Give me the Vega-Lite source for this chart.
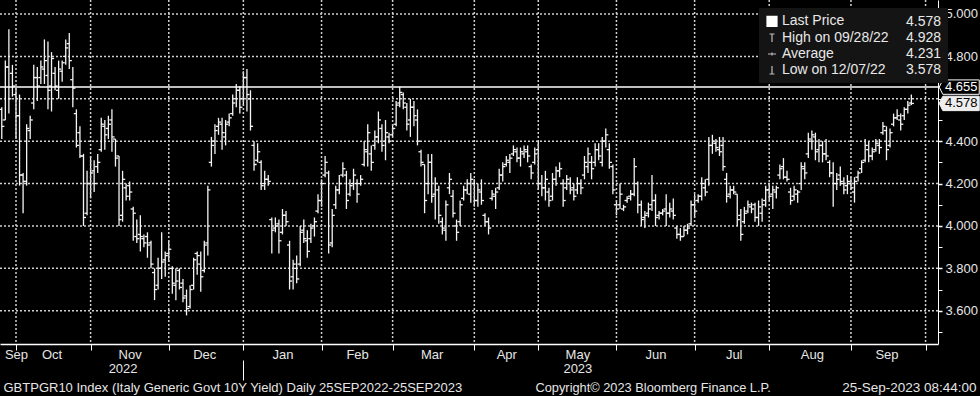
{
"$schema": "https://vega.github.io/schema/vega-lite/v6.json",
"width": 938,
"height": 344,
"autosize": {"type": "none"},
"padding": {"left": 0, "top": 0, "right": 42, "bottom": 52},
"background": "#000000",
"config": {
  "view": {"stroke": null},
  "font": "Liberation Sans",
  "axis": {"labelFont": "Liberation Sans", "titleFont": "Liberation Sans", "labelColor": "#e6e6e6", "titleColor": "#e6e6e6", "titleFontWeight": "normal", "titleFontSize": 13, "labelFontSize": 13}
},
"datasets": {
"bars": [
{"d":"2022-09-26","o":4.55,"h":4.56,"l":4.41,"c":4.47},
{"d":"2022-09-27","o":4.50,"h":4.78,"l":4.50,"c":4.75},
{"d":"2022-09-28","o":4.75,"h":4.928,"l":4.53,"c":4.60},
{"d":"2022-09-29","o":4.72,"h":4.76,"l":4.61,"c":4.66},
{"d":"2022-09-30","o":4.62,"h":4.65,"l":4.41,"c":4.52},
{"d":"2022-10-03","o":4.52,"h":4.62,"l":4.19,"c":4.24},
{"d":"2022-10-04","o":4.24,"h":4.25,"l":4.06,"c":4.21},
{"d":"2022-10-05","o":4.21,"h":4.48,"l":4.19,"c":4.46},
{"d":"2022-10-06","o":4.45,"h":4.52,"l":4.41,"c":4.50},
{"d":"2022-10-07","o":4.58,"h":4.76,"l":4.55,"c":4.70},
{"d":"2022-10-10","o":4.70,"h":4.75,"l":4.59,"c":4.66},
{"d":"2022-10-11","o":4.70,"h":4.78,"l":4.67,"c":4.75},
{"d":"2022-10-12","o":4.74,"h":4.88,"l":4.67,"c":4.78},
{"d":"2022-10-13","o":4.71,"h":4.87,"l":4.55,"c":4.64},
{"d":"2022-10-14","o":4.66,"h":4.82,"l":4.54,"c":4.79},
{"d":"2022-10-17","o":4.72,"h":4.75,"l":4.64,"c":4.66},
{"d":"2022-10-18","o":4.64,"h":4.78,"l":4.60,"c":4.74},
{"d":"2022-10-19","o":4.73,"h":4.78,"l":4.68,"c":4.77},
{"d":"2022-10-20","o":4.80,"h":4.88,"l":4.76,"c":4.84},
{"d":"2022-10-21","o":4.86,"h":4.91,"l":4.74,"c":4.78},
{"d":"2022-10-24","o":4.69,"h":4.75,"l":4.56,"c":4.65},
{"d":"2022-10-25","o":4.53,"h":4.55,"l":4.37,"c":4.38},
{"d":"2022-10-26","o":4.44,"h":4.47,"l":4.32,"c":4.33},
{"d":"2022-10-27","o":4.33,"h":4.34,"l":4.00,"c":4.04},
{"d":"2022-10-28","o":4.06,"h":4.26,"l":4.05,"c":4.20},
{"d":"2022-10-31","o":4.20,"h":4.33,"l":4.13,"c":4.25},
{"d":"2022-11-01","o":4.26,"h":4.31,"l":4.16,"c":4.20},
{"d":"2022-11-02","o":4.28,"h":4.34,"l":4.25,"c":4.30},
{"d":"2022-11-03","o":4.36,"h":4.51,"l":4.35,"c":4.48},
{"d":"2022-11-04","o":4.47,"h":4.50,"l":4.36,"c":4.43},
{"d":"2022-11-07","o":4.46,"h":4.52,"l":4.41,"c":4.48},
{"d":"2022-11-08","o":4.50,"h":4.55,"l":4.35,"c":4.42},
{"d":"2022-11-09","o":4.41,"h":4.41,"l":4.28,"c":4.32},
{"d":"2022-11-10","o":4.33,"h":4.33,"l":4.00,"c":4.03},
{"d":"2022-11-11","o":4.05,"h":4.26,"l":4.02,"c":4.22},
{"d":"2022-11-14","o":4.18,"h":4.20,"l":4.12,"c":4.14},
{"d":"2022-11-15","o":4.19,"h":4.21,"l":4.12,"c":4.16},
{"d":"2022-11-16","o":4.08,"h":4.09,"l":3.93,"c":4.06},
{"d":"2022-11-17","o":3.95,"h":4.03,"l":3.92,"c":3.94},
{"d":"2022-11-18","o":3.96,"h":4.05,"l":3.88,"c":3.95},
{"d":"2022-11-21","o":3.94,"h":3.96,"l":3.90,"c":3.92},
{"d":"2022-11-22","o":3.95,"h":3.97,"l":3.85,"c":3.91},
{"d":"2022-11-23","o":3.92,"h":3.93,"l":3.80,"c":3.82},
{"d":"2022-11-24","o":3.78,"h":3.80,"l":3.65,"c":3.70},
{"d":"2022-11-25","o":3.72,"h":3.85,"l":3.70,"c":3.80},
{"d":"2022-11-28","o":3.80,"h":3.97,"l":3.75,"c":3.83},
{"d":"2022-11-29","o":3.84,"h":3.88,"l":3.76,"c":3.86},
{"d":"2022-11-30","o":3.87,"h":3.93,"l":3.83,"c":3.89},
{"d":"2022-12-01","o":3.80,"h":3.81,"l":3.68,"c":3.73},
{"d":"2022-12-02","o":3.72,"h":3.80,"l":3.65,"c":3.74},
{"d":"2022-12-05","o":3.79,"h":3.80,"l":3.70,"c":3.71},
{"d":"2022-12-06","o":3.73,"h":3.75,"l":3.64,"c":3.66},
{"d":"2022-12-07","o":3.67,"h":3.70,"l":3.578,"c":3.61},
{"d":"2022-12-08","o":3.62,"h":3.72,"l":3.61,"c":3.70},
{"d":"2022-12-09","o":3.72,"h":3.85,"l":3.70,"c":3.84},
{"d":"2022-12-12","o":3.87,"h":3.88,"l":3.77,"c":3.86},
{"d":"2022-12-13","o":3.82,"h":3.88,"l":3.69,"c":3.76},
{"d":"2022-12-14","o":3.79,"h":3.93,"l":3.78,"c":3.91},
{"d":"2022-12-15","o":3.92,"h":4.19,"l":3.86,"c":4.17},
{"d":"2022-12-16","o":4.30,"h":4.42,"l":4.28,"c":4.38},
{"d":"2022-12-19","o":4.40,"h":4.48,"l":4.34,"c":4.45},
{"d":"2022-12-20","o":4.47,"h":4.51,"l":4.43,"c":4.49},
{"d":"2022-12-21","o":4.48,"h":4.51,"l":4.36,"c":4.44},
{"d":"2022-12-22","o":4.42,"h":4.50,"l":4.38,"c":4.48},
{"d":"2022-12-23","o":4.49,"h":4.53,"l":4.47,"c":4.51},
{"d":"2022-12-27","o":4.53,"h":4.62,"l":4.52,"c":4.58},
{"d":"2022-12-28","o":4.60,"h":4.67,"l":4.56,"c":4.64},
{"d":"2022-12-29","o":4.64,"h":4.66,"l":4.53,"c":4.56},
{"d":"2022-12-30","o":4.60,"h":4.73,"l":4.57,"c":4.70},
{"d":"2023-01-02","o":4.70,"h":4.74,"l":4.54,"c":4.62},
{"d":"2023-01-03","o":4.60,"h":4.64,"l":4.45,"c":4.47},
{"d":"2023-01-04","o":4.38,"h":4.40,"l":4.26,"c":4.29},
{"d":"2023-01-05","o":4.31,"h":4.39,"l":4.30,"c":4.35},
{"d":"2023-01-06","o":4.30,"h":4.31,"l":4.17,"c":4.19},
{"d":"2023-01-09","o":4.20,"h":4.26,"l":4.17,"c":4.22},
{"d":"2023-01-10","o":4.22,"h":4.24,"l":4.19,"c":4.21},
{"d":"2023-01-11","o":4.03,"h":4.04,"l":3.87,"c":3.98},
{"d":"2023-01-12","o":3.99,"h":4.04,"l":3.97,"c":4.00},
{"d":"2023-01-13","o":4.01,"h":4.03,"l":3.87,"c":3.93},
{"d":"2023-01-16","o":3.97,"h":4.08,"l":3.96,"c":4.05},
{"d":"2023-01-17","o":4.05,"h":4.07,"l":4.00,"c":4.02},
{"d":"2023-01-18","o":3.91,"h":3.93,"l":3.70,"c":3.74},
{"d":"2023-01-19","o":3.76,"h":3.84,"l":3.70,"c":3.82},
{"d":"2023-01-20","o":3.80,"h":3.86,"l":3.73,"c":3.75},
{"d":"2023-01-23","o":3.82,"h":4.00,"l":3.81,"c":3.97},
{"d":"2023-01-24","o":3.98,"h":4.03,"l":3.92,"c":3.94},
{"d":"2023-01-25","o":3.93,"h":3.98,"l":3.85,"c":3.88},
{"d":"2023-01-26","o":3.94,"h":4.01,"l":3.92,"c":3.99},
{"d":"2023-01-27","o":4.00,"h":4.04,"l":3.95,"c":4.02},
{"d":"2023-01-30","o":4.07,"h":4.15,"l":4.06,"c":4.12},
{"d":"2023-01-31","o":4.12,"h":4.22,"l":4.09,"c":4.20},
{"d":"2023-02-01","o":4.24,"h":4.33,"l":4.23,"c":4.30},
{"d":"2023-02-02","o":4.25,"h":4.26,"l":3.87,"c":3.91},
{"d":"2023-02-03","o":3.92,"h":4.08,"l":3.90,"c":4.05},
{"d":"2023-02-06","o":4.10,"h":4.19,"l":4.08,"c":4.17},
{"d":"2023-02-07","o":4.17,"h":4.24,"l":4.15,"c":4.20},
{"d":"2023-02-08","o":4.24,"h":4.30,"l":4.23,"c":4.27},
{"d":"2023-02-09","o":4.24,"h":4.26,"l":4.08,"c":4.12},
{"d":"2023-02-10","o":4.15,"h":4.22,"l":4.14,"c":4.19},
{"d":"2023-02-13","o":4.20,"h":4.27,"l":4.17,"c":4.24},
{"d":"2023-02-14","o":4.20,"h":4.22,"l":4.11,"c":4.15},
{"d":"2023-02-15","o":4.20,"h":4.24,"l":4.19,"c":4.22},
{"d":"2023-02-16","o":4.29,"h":4.40,"l":4.28,"c":4.36},
{"d":"2023-02-17","o":4.35,"h":4.48,"l":4.28,"c":4.44},
{"d":"2023-02-20","o":4.34,"h":4.38,"l":4.26,"c":4.30},
{"d":"2023-02-21","o":4.38,"h":4.45,"l":4.36,"c":4.42},
{"d":"2023-02-22","o":4.42,"h":4.54,"l":4.39,"c":4.50},
{"d":"2023-02-23","o":4.46,"h":4.48,"l":4.35,"c":4.38},
{"d":"2023-02-24","o":4.40,"h":4.50,"l":4.31,"c":4.44},
{"d":"2023-02-27","o":4.42,"h":4.44,"l":4.39,"c":4.40},
{"d":"2023-02-28","o":4.43,"h":4.48,"l":4.42,"c":4.46},
{"d":"2023-03-01","o":4.48,"h":4.59,"l":4.47,"c":4.57},
{"d":"2023-03-02","o":4.58,"h":4.657,"l":4.56,"c":4.63},
{"d":"2023-03-03","o":4.62,"h":4.63,"l":4.55,"c":4.58},
{"d":"2023-03-06","o":4.56,"h":4.58,"l":4.45,"c":4.48},
{"d":"2023-03-07","o":4.50,"h":4.60,"l":4.42,"c":4.56},
{"d":"2023-03-08","o":4.56,"h":4.59,"l":4.47,"c":4.52},
{"d":"2023-03-09","o":4.50,"h":4.55,"l":4.38,"c":4.40},
{"d":"2023-03-10","o":4.35,"h":4.36,"l":4.28,"c":4.30},
{"d":"2023-03-13","o":4.29,"h":4.29,"l":4.06,"c":4.12},
{"d":"2023-03-14","o":4.20,"h":4.34,"l":4.15,"c":4.30},
{"d":"2023-03-15","o":4.30,"h":4.34,"l":4.11,"c":4.14},
{"d":"2023-03-16","o":4.15,"h":4.23,"l":4.03,"c":4.20},
{"d":"2023-03-17","o":4.17,"h":4.19,"l":4.01,"c":4.05},
{"d":"2023-03-20","o":4.02,"h":4.04,"l":3.96,"c":3.99},
{"d":"2023-03-21","o":3.98,"h":4.12,"l":3.93,"c":4.10},
{"d":"2023-03-22","o":4.18,"h":4.25,"l":4.15,"c":4.22},
{"d":"2023-03-23","o":4.14,"h":4.17,"l":4.04,"c":4.06},
{"d":"2023-03-24","o":4.00,"h":4.03,"l":3.93,"c":3.97},
{"d":"2023-03-27","o":4.02,"h":4.12,"l":4.00,"c":4.10},
{"d":"2023-03-28","o":4.13,"h":4.19,"l":4.12,"c":4.17},
{"d":"2023-03-29","o":4.17,"h":4.22,"l":4.15,"c":4.20},
{"d":"2023-03-30","o":4.15,"h":4.25,"l":4.11,"c":4.22},
{"d":"2023-03-31","o":4.20,"h":4.22,"l":4.09,"c":4.12},
{"d":"2023-04-03","o":4.12,"h":4.20,"l":4.09,"c":4.17},
{"d":"2023-04-04","o":4.16,"h":4.22,"l":4.10,"c":4.12},
{"d":"2023-04-05","o":4.05,"h":4.06,"l":4.00,"c":4.02},
{"d":"2023-04-06","o":4.02,"h":4.04,"l":3.96,"c":3.99},
{"d":"2023-04-11","o":4.13,"h":4.17,"l":4.12,"c":4.15},
{"d":"2023-04-12","o":4.14,"h":4.18,"l":4.08,"c":4.16},
{"d":"2023-04-13","o":4.18,"h":4.27,"l":4.17,"c":4.24},
{"d":"2023-04-14","o":4.24,"h":4.30,"l":4.21,"c":4.28},
{"d":"2023-04-17","o":4.29,"h":4.33,"l":4.28,"c":4.31},
{"d":"2023-04-18","o":4.30,"h":4.34,"l":4.25,"c":4.32},
{"d":"2023-04-19","o":4.34,"h":4.38,"l":4.33,"c":4.36},
{"d":"2023-04-20","o":4.35,"h":4.37,"l":4.30,"c":4.32},
{"d":"2023-04-21","o":4.32,"h":4.37,"l":4.28,"c":4.35},
{"d":"2023-04-24","o":4.34,"h":4.38,"l":4.32,"c":4.36},
{"d":"2023-04-25","o":4.35,"h":4.38,"l":4.30,"c":4.33},
{"d":"2023-04-26","o":4.28,"h":4.29,"l":4.22,"c":4.25},
{"d":"2023-04-27","o":4.30,"h":4.37,"l":4.29,"c":4.34},
{"d":"2023-04-28","o":4.36,"h":4.40,"l":4.17,"c":4.20},
{"d":"2023-05-02","o":4.20,"h":4.24,"l":4.14,"c":4.18},
{"d":"2023-05-03","o":4.18,"h":4.26,"l":4.12,"c":4.22},
{"d":"2023-05-04","o":4.16,"h":4.18,"l":4.09,"c":4.12},
{"d":"2023-05-05","o":4.14,"h":4.25,"l":4.12,"c":4.22},
{"d":"2023-05-08","o":4.22,"h":4.28,"l":4.19,"c":4.26},
{"d":"2023-05-09","o":4.26,"h":4.30,"l":4.23,"c":4.27},
{"d":"2023-05-10","o":4.20,"h":4.22,"l":4.09,"c":4.12},
{"d":"2023-05-11","o":4.18,"h":4.24,"l":4.17,"c":4.22},
{"d":"2023-05-12","o":4.20,"h":4.23,"l":4.15,"c":4.17},
{"d":"2023-05-15","o":4.18,"h":4.20,"l":4.12,"c":4.14},
{"d":"2023-05-16","o":4.17,"h":4.23,"l":4.15,"c":4.20},
{"d":"2023-05-17","o":4.20,"h":4.22,"l":4.15,"c":4.18},
{"d":"2023-05-18","o":4.24,"h":4.33,"l":4.22,"c":4.30},
{"d":"2023-05-19","o":4.28,"h":4.37,"l":4.25,"c":4.34},
{"d":"2023-05-22","o":4.30,"h":4.33,"l":4.22,"c":4.27},
{"d":"2023-05-23","o":4.30,"h":4.39,"l":4.28,"c":4.36},
{"d":"2023-05-24","o":4.36,"h":4.39,"l":4.31,"c":4.33},
{"d":"2023-05-25","o":4.30,"h":4.42,"l":4.28,"c":4.40},
{"d":"2023-05-26","o":4.40,"h":4.46,"l":4.37,"c":4.43},
{"d":"2023-05-29","o":4.36,"h":4.39,"l":4.27,"c":4.30},
{"d":"2023-05-30","o":4.28,"h":4.29,"l":4.15,"c":4.17},
{"d":"2023-05-31","o":4.10,"h":4.12,"l":4.05,"c":4.08},
{"d":"2023-06-01","o":4.10,"h":4.20,"l":4.08,"c":4.15},
{"d":"2023-06-02","o":4.08,"h":4.10,"l":4.07,"c":4.09},
{"d":"2023-06-05","o":4.12,"h":4.14,"l":4.11,"c":4.13},
{"d":"2023-06-06","o":4.14,"h":4.17,"l":4.12,"c":4.15},
{"d":"2023-06-07","o":4.15,"h":4.32,"l":4.14,"c":4.28},
{"d":"2023-06-08","o":4.20,"h":4.21,"l":4.06,"c":4.10},
{"d":"2023-06-09","o":4.10,"h":4.12,"l":4.00,"c":4.03},
{"d":"2023-06-12","o":4.04,"h":4.07,"l":3.99,"c":4.05},
{"d":"2023-06-13","o":4.06,"h":4.11,"l":4.04,"c":4.08},
{"d":"2023-06-14","o":4.10,"h":4.24,"l":4.07,"c":4.12},
{"d":"2023-06-15","o":4.12,"h":4.15,"l":4.00,"c":4.04},
{"d":"2023-06-16","o":4.05,"h":4.07,"l":4.03,"c":4.06},
{"d":"2023-06-19","o":4.06,"h":4.08,"l":4.05,"c":4.07},
{"d":"2023-06-20","o":4.08,"h":4.15,"l":4.00,"c":4.06},
{"d":"2023-06-21","o":4.06,"h":4.11,"l":4.04,"c":4.08},
{"d":"2023-06-22","o":4.07,"h":4.13,"l":4.03,"c":4.05},
{"d":"2023-06-23","o":3.99,"h":4.00,"l":3.94,"c":3.96},
{"d":"2023-06-26","o":3.96,"h":3.99,"l":3.93,"c":3.95},
{"d":"2023-06-27","o":3.95,"h":4.00,"l":3.95,"c":3.98},
{"d":"2023-06-28","o":3.98,"h":4.01,"l":3.96,"c":3.99},
{"d":"2023-06-29","o":4.01,"h":4.12,"l":4.00,"c":4.10},
{"d":"2023-06-30","o":4.10,"h":4.15,"l":4.04,"c":4.07},
{"d":"2023-07-03","o":4.12,"h":4.15,"l":4.11,"c":4.14},
{"d":"2023-07-04","o":4.14,"h":4.23,"l":4.12,"c":4.20},
{"d":"2023-07-05","o":4.18,"h":4.22,"l":4.14,"c":4.16},
{"d":"2023-07-06","o":4.22,"h":4.42,"l":4.19,"c":4.38},
{"d":"2023-07-07","o":4.38,"h":4.43,"l":4.34,"c":4.40},
{"d":"2023-07-10","o":4.39,"h":4.41,"l":4.35,"c":4.37},
{"d":"2023-07-11","o":4.36,"h":4.42,"l":4.33,"c":4.35},
{"d":"2023-07-12","o":4.38,"h":4.42,"l":4.26,"c":4.28},
{"d":"2023-07-13","o":4.22,"h":4.25,"l":4.11,"c":4.14},
{"d":"2023-07-14","o":4.15,"h":4.19,"l":4.13,"c":4.17},
{"d":"2023-07-17","o":4.17,"h":4.19,"l":4.15,"c":4.16},
{"d":"2023-07-18","o":4.15,"h":4.15,"l":4.00,"c":4.03},
{"d":"2023-07-19","o":4.05,"h":4.08,"l":3.93,"c":3.96},
{"d":"2023-07-20","o":4.02,"h":4.09,"l":4.01,"c":4.06},
{"d":"2023-07-21","o":4.07,"h":4.12,"l":4.06,"c":4.10},
{"d":"2023-07-24","o":4.09,"h":4.11,"l":4.06,"c":4.08},
{"d":"2023-07-25","o":4.10,"h":4.11,"l":4.02,"c":4.04},
{"d":"2023-07-26","o":4.04,"h":4.12,"l":4.00,"c":4.09},
{"d":"2023-07-27","o":4.06,"h":4.13,"l":4.02,"c":4.10},
{"d":"2023-07-28","o":4.12,"h":4.19,"l":4.09,"c":4.17},
{"d":"2023-07-31","o":4.17,"h":4.20,"l":4.12,"c":4.14},
{"d":"2023-08-01","o":4.15,"h":4.19,"l":4.08,"c":4.17},
{"d":"2023-08-02","o":4.16,"h":4.19,"l":4.13,"c":4.18},
{"d":"2023-08-03","o":4.24,"h":4.29,"l":4.22,"c":4.27},
{"d":"2023-08-04","o":4.28,"h":4.32,"l":4.22,"c":4.23},
{"d":"2023-08-07","o":4.23,"h":4.26,"l":4.21,"c":4.22},
{"d":"2023-08-08","o":4.16,"h":4.18,"l":4.10,"c":4.12},
{"d":"2023-08-09","o":4.14,"h":4.19,"l":4.12,"c":4.17},
{"d":"2023-08-10","o":4.15,"h":4.17,"l":4.11,"c":4.16},
{"d":"2023-08-11","o":4.20,"h":4.30,"l":4.17,"c":4.28},
{"d":"2023-08-14","o":4.27,"h":4.30,"l":4.22,"c":4.25},
{"d":"2023-08-15","o":4.34,"h":4.44,"l":4.32,"c":4.41},
{"d":"2023-08-16","o":4.40,"h":4.45,"l":4.36,"c":4.43},
{"d":"2023-08-17","o":4.42,"h":4.44,"l":4.31,"c":4.35},
{"d":"2023-08-18","o":4.36,"h":4.41,"l":4.30,"c":4.38},
{"d":"2023-08-21","o":4.38,"h":4.40,"l":4.30,"c":4.34},
{"d":"2023-08-22","o":4.34,"h":4.41,"l":4.31,"c":4.33},
{"d":"2023-08-23","o":4.30,"h":4.31,"l":4.23,"c":4.25},
{"d":"2023-08-24","o":4.25,"h":4.30,"l":4.09,"c":4.20},
{"d":"2023-08-25","o":4.20,"h":4.25,"l":4.17,"c":4.22},
{"d":"2023-08-28","o":4.24,"h":4.28,"l":4.19,"c":4.21},
{"d":"2023-08-29","o":4.20,"h":4.23,"l":4.15,"c":4.17},
{"d":"2023-08-30","o":4.19,"h":4.24,"l":4.15,"c":4.21},
{"d":"2023-08-31","o":4.20,"h":4.23,"l":4.17,"c":4.18},
{"d":"2023-09-01","o":4.16,"h":4.23,"l":4.11,"c":4.21},
{"d":"2023-09-04","o":4.23,"h":4.26,"l":4.21,"c":4.25},
{"d":"2023-09-05","o":4.27,"h":4.31,"l":4.25,"c":4.30},
{"d":"2023-09-06","o":4.31,"h":4.41,"l":4.30,"c":4.38},
{"d":"2023-09-07","o":4.36,"h":4.40,"l":4.30,"c":4.33},
{"d":"2023-09-08","o":4.33,"h":4.37,"l":4.31,"c":4.35},
{"d":"2023-09-11","o":4.36,"h":4.41,"l":4.35,"c":4.39},
{"d":"2023-09-12","o":4.38,"h":4.41,"l":4.34,"c":4.37},
{"d":"2023-09-13","o":4.44,"h":4.49,"l":4.43,"c":4.47},
{"d":"2023-09-14","o":4.45,"h":4.47,"l":4.31,"c":4.36},
{"d":"2023-09-15","o":4.38,"h":4.46,"l":4.37,"c":4.44},
{"d":"2023-09-18","o":4.48,"h":4.53,"l":4.47,"c":4.51},
{"d":"2023-09-19","o":4.51,"h":4.55,"l":4.50,"c":4.52},
{"d":"2023-09-20","o":4.50,"h":4.53,"l":4.45,"c":4.48},
{"d":"2023-09-21","o":4.52,"h":4.56,"l":4.50,"c":4.55},
{"d":"2023-09-22","o":4.55,"h":4.59,"l":4.53,"c":4.57},
{"d":"2023-09-25","o":4.58,"h":4.62,"l":4.57,"c":4.578}
],
"leg": [
{"item":"Last Price"},{"item":"4.578"},
{"item":"High on 09/28/22"},{"item":"4.928"},
{"item":"Average"},{"item":"4.231"},
{"item":"Low on 12/07/22"},{"item":"3.578"}
],
"hgrid": [{"g":3.6},{"g":3.8},{"g":4.0},{"g":4.2},{"g":4.4},{"g":4.6},{"g":4.8},{"g":5.0}],
"vgrid": [{"m":"2022-09-30"},{"m":"2022-10-31"},{"m":"2022-11-30"},{"m":"2022-12-30"},{"m":"2023-01-31"},{"m":"2023-02-28"},{"m":"2023-03-31"},{"m":"2023-04-28"},{"m":"2023-05-31"},{"m":"2023-06-30"},{"m":"2023-07-31"},{"m":"2023-08-31"},{"m":"2023-09-29"}]
},
"resolve": {"axis": {"x": "independent", "y": "independent"}},
"layer": [
{
  "data": {"name": "hgrid"},
  "mark": {"type": "rule", "color": "#cfcfcf", "strokeWidth": 1.5, "strokeDash": [2, 2]},
  "encoding": {"y": {"field": "g", "type": "quantitative", "scale": {"domain": [3.443, 5.066], "nice": false, "zero": false}, "axis": null}}
},
{
  "data": {"name": "bars"},
  "mark": {"type": "rule", "color": "#f4f4f4", "strokeWidth": 1.3},
  "encoding": {
    "x": {"field": "d", "type": "ordinal",
      "scale": {"type": "point", "padding": 0.5, "domain": [
"2022-09-26","2022-09-27","2022-09-28","2022-09-29","2022-09-30",
"2022-10-03","2022-10-04","2022-10-05","2022-10-06","2022-10-07",
"2022-10-10","2022-10-11","2022-10-12","2022-10-13","2022-10-14",
"2022-10-17","2022-10-18","2022-10-19","2022-10-20","2022-10-21",
"2022-10-24","2022-10-25","2022-10-26","2022-10-27","2022-10-28",
"2022-10-31",
"2022-11-01","2022-11-02","2022-11-03","2022-11-04",
"2022-11-07","2022-11-08","2022-11-09","2022-11-10","2022-11-11",
"2022-11-14","2022-11-15","2022-11-16","2022-11-17","2022-11-18",
"2022-11-21","2022-11-22","2022-11-23","2022-11-24","2022-11-25",
"2022-11-28","2022-11-29","2022-11-30",
"2022-12-01","2022-12-02",
"2022-12-05","2022-12-06","2022-12-07","2022-12-08","2022-12-09",
"2022-12-12","2022-12-13","2022-12-14","2022-12-15","2022-12-16",
"2022-12-19","2022-12-20","2022-12-21","2022-12-22","2022-12-23",
"2022-12-27","2022-12-28","2022-12-29","2022-12-30",
"2023-01-02","2023-01-03","2023-01-04","2023-01-05","2023-01-06",
"2023-01-09","2023-01-10","2023-01-11","2023-01-12","2023-01-13",
"2023-01-16","2023-01-17","2023-01-18","2023-01-19","2023-01-20",
"2023-01-23","2023-01-24","2023-01-25","2023-01-26","2023-01-27",
"2023-01-30","2023-01-31",
"2023-02-01","2023-02-02","2023-02-03",
"2023-02-06","2023-02-07","2023-02-08","2023-02-09","2023-02-10",
"2023-02-13","2023-02-14","2023-02-15","2023-02-16","2023-02-17",
"2023-02-20","2023-02-21","2023-02-22","2023-02-23","2023-02-24",
"2023-02-27","2023-02-28",
"2023-03-01","2023-03-02","2023-03-03",
"2023-03-06","2023-03-07","2023-03-08","2023-03-09","2023-03-10",
"2023-03-13","2023-03-14","2023-03-15","2023-03-16","2023-03-17",
"2023-03-20","2023-03-21","2023-03-22","2023-03-23","2023-03-24",
"2023-03-27","2023-03-28","2023-03-29","2023-03-30","2023-03-31",
"2023-04-03","2023-04-04","2023-04-05","2023-04-06",
"2023-04-11","2023-04-12","2023-04-13","2023-04-14",
"2023-04-17","2023-04-18","2023-04-19","2023-04-20","2023-04-21",
"2023-04-24","2023-04-25","2023-04-26","2023-04-27","2023-04-28",
"2023-05-02","2023-05-03","2023-05-04","2023-05-05",
"2023-05-08","2023-05-09","2023-05-10","2023-05-11","2023-05-12",
"2023-05-15","2023-05-16","2023-05-17","2023-05-18","2023-05-19",
"2023-05-22","2023-05-23","2023-05-24","2023-05-25","2023-05-26",
"2023-05-29","2023-05-30","2023-05-31",
"2023-06-01","2023-06-02",
"2023-06-05","2023-06-06","2023-06-07","2023-06-08","2023-06-09",
"2023-06-12","2023-06-13","2023-06-14","2023-06-15","2023-06-16",
"2023-06-19","2023-06-20","2023-06-21","2023-06-22","2023-06-23",
"2023-06-26","2023-06-27","2023-06-28","2023-06-29","2023-06-30",
"2023-07-03","2023-07-04","2023-07-05","2023-07-06","2023-07-07",
"2023-07-10","2023-07-11","2023-07-12","2023-07-13","2023-07-14",
"2023-07-17","2023-07-18","2023-07-19","2023-07-20","2023-07-21",
"2023-07-24","2023-07-25","2023-07-26","2023-07-27","2023-07-28",
"2023-07-31",
"2023-08-01","2023-08-02","2023-08-03","2023-08-04",
"2023-08-07","2023-08-08","2023-08-09","2023-08-10","2023-08-11",
"2023-08-14","2023-08-15","2023-08-16","2023-08-17","2023-08-18",
"2023-08-21","2023-08-22","2023-08-23","2023-08-24","2023-08-25",
"2023-08-28","2023-08-29","2023-08-30","2023-08-31",
"2023-09-01",
"2023-09-04","2023-09-05","2023-09-06","2023-09-07","2023-09-08",
"2023-09-11","2023-09-12","2023-09-13","2023-09-14","2023-09-15",
"2023-09-18","2023-09-19","2023-09-20","2023-09-21","2023-09-22",
"2023-09-25","2023-09-26","2023-09-27","2023-09-28","2023-09-29",
"2023-10-02","2023-10-03","2023-10-04"
      ]},
      "axis": {
        "orient": "bottom",
        "values": ["2022-09-30","2022-10-14","2022-11-15","2022-12-14","2023-01-16","2023-02-14","2023-03-15","2023-04-17","2023-05-16","2023-06-15","2023-07-17","2023-08-16","2023-09-14"],
        "labelExpr": "utcFormat(toDate(datum.value), '%b')",
        "labelAngle": 0, "labelOverlap": false, "labelPadding": 4, "labelFontSize": 13,
        "ticks": false, "grid": false,
        "domain": true, "domainColor": "#ffffff", "domainWidth": 1.5,
        "title": "GBTPGR10 Index (Italy Generic Govt 10Y Yield)  Daily 25SEP2022-25SEP2023",
        "titleFontSize": 13,
        "titleX": 3, "titleY": 43, "titleAlign": "left", "titleBaseline": "middle"
      }
    },
    "y": {"field": "l", "type": "quantitative",
      "axis": {
        "orient": "right",
        "values": [3.6, 3.8, 4.0, 4.2, 4.4, 4.8, 5.0],
        "format": ".3f",
        "labelOverlap": false, "labelPadding": 3, "labelFontSize": 13,
        "grid": false,
        "tickSize": 4, "tickColor": "#ffffff", "tickWidth": 1.5,
        "domain": true, "domainColor": "#ffffff",
        "title": null
      }
    },
    "y2": {"field": "h"}
  }
},
{
  "data": {"name": "vgrid"},
  "mark": {"type": "rule", "color": "#cfcfcf", "strokeWidth": 1.5, "strokeDash": [2, 2]},
  "encoding": {"x": {"field": "m", "type": "ordinal", "axis": null}}
},
{
  "data": {"name": "bars"},
  "mark": {"type": "tick", "orient": "horizontal", "color": "#f4f4f4", "opacity": 1, "size": 2.6, "thickness": 1.3, "xOffset": -1.3},
  "encoding": {
    "x": {"field": "d", "type": "ordinal",
      "axis": {
        "orient": "bottom",
        "values": ["2022-09-30","2022-10-31","2022-11-30","2022-12-30","2023-01-31","2023-02-28","2023-03-31","2023-04-28","2023-05-31","2023-06-30","2023-07-31","2023-08-31","2023-09-29"],
        "labels": false, "ticks": true, "tickSize": 6, "tickColor": "#ffffff",
        "grid": false,
        "domain": false,
        "title": "Copyright\u00a9 2023 Bloomberg Finance L.P.",
        "titleFontSize": 12.8,
        "titleX": 535, "titleY": 43, "titleAlign": "left", "titleBaseline": "middle"
      }
    },
    "y": {"field": "o", "type": "quantitative", "axis": null}
  }
},
{
  "data": {"name": "bars"},
  "mark": {"type": "tick", "orient": "horizontal", "color": "#f4f4f4", "opacity": 1, "size": 2.6, "thickness": 1.3, "xOffset": 1.3},
  "encoding": {
    "x": {"field": "d", "type": "ordinal",
      "axis": {
        "orient": "bottom",
        "values": ["2022-11-11","2023-05-16"],
        "labelExpr": "utcFormat(toDate(datum.value), '%Y')",
        "labelAngle": 0, "labelOverlap": false, "labelFontSize": 13,
        "offset": 16, "ticks": false, "tickSize": 0,
        "labelPadding": 2,
        "domain": false, "grid": false,
        "title": "25-Sep-2023 08:44:00",
        "titleFontSize": 13.5,
        "titleX": 976, "titleY": 27, "titleAlign": "right", "titleBaseline": "middle"
      }
    },
    "y": {"field": "c", "type": "quantitative",
      "axis": {
        "orient": "right",
        "values": [3.5, 3.7, 3.9, 4.1, 4.3, 4.5, 4.6, 4.7, 4.9],
        "labels": false, "grid": false, "domain": false,
        "ticks": true, "tickSize": 4, "tickColor": "#ffffff",
        "title": null
      }
    }
  }
},
{
  "data": {"values": [{}]},
  "mark": {"type": "rule", "color": "#ffffff", "strokeWidth": 1.5},
  "encoding": {"y": {"datum": 4.655, "type": "quantitative", "axis": null}}
},
{
  "data": {"values": [{}]},
  "mark": {"type": "point", "shape": "M-1,0L-0.82,-0.36H1V0.36H-0.82Z", "size": 1600, "filled": true, "fill": "#000000", "stroke": "#ffffff", "strokeWidth": 1, "opacity": 1, "xOffset": 23},
  "encoding": {
    "x": {"datum": "2023-10-04", "type": "ordinal",
      "axis": {
        "orient": "bottom",
        "values": ["2022-12-30"],
        "labels": false, "ticks": true, "tickSize": 20, "tickColor": "#ffffff", "tickWidth": 1,
        "offset": 16, "domain": false, "grid": false, "title": null
      }
    },
    "y": {"datum": 4.655, "type": "quantitative", "axis": null}
  }
},
{
  "data": {"values": [{}]},
  "mark": {"type": "text", "text": "4.655", "color": "#ffffff", "fontSize": 13, "align": "center", "baseline": "middle", "xOffset": 25},
  "encoding": {"x": {"datum": "2023-10-04", "type": "ordinal", "axis": null}, "y": {"datum": 4.655, "type": "quantitative", "axis": null}}
},
{
  "data": {"values": [{}]},
  "mark": {"type": "point", "shape": "M-1,0L-0.82,-0.36H1V0.36H-0.82Z", "size": 1600, "filled": true, "fill": "#eeeeee", "stroke": "#eeeeee", "strokeWidth": 1, "opacity": 1, "xOffset": 23},
  "encoding": {"x": {"datum": "2023-10-04", "type": "ordinal", "axis": null}, "y": {"datum": 4.578, "type": "quantitative", "axis": null}}
},
{
  "data": {"values": [{}]},
  "mark": {"type": "text", "text": "4.578", "color": "#000000", "fontSize": 13, "align": "center", "baseline": "middle", "xOffset": 25},
  "encoding": {"x": {"datum": "2023-10-04", "type": "ordinal", "axis": null}, "y": {"datum": 4.578, "type": "quantitative", "axis": null}}
},
{
  "data": {"name": "leg"},
  "mark": {"type": "point", "filled": true, "size": 0, "opacity": 1},
  "encoding": {
    "fill": {"field": "item", "type": "nominal",
      "scale": {"domain": ["Last Price","4.578","High on 09/28/22","4.928","Average","4.231","Low on 12/07/22","3.578"],
                "range": ["#ffffff","transparent","transparent","transparent","transparent","transparent","transparent","transparent"]},
      "legend": {
        "orient": "none", "legendX": 759, "legendY": 8,
        "direction": "horizontal", "columns": 2, "columnPadding": -9, "rowPadding": 2,
        "padding": 6, "fillColor": "#141414",
        "title": null, "labelColor": "#e8e8e8", "labelFont": "Liberation Sans", "labelFontSize": 14,
        "labelOffset": 3, "labelLimit": 300, "symbolSize": 100, "symbolOpacity": 1, "symbolStrokeWidth": 1.2,
        "gridAlign": "each"
      }
    },
    "stroke": {"field": "item", "type": "nominal",
      "scale": {"domain": ["Last Price","4.578","High on 09/28/22","4.928","Average","4.231","Low on 12/07/22","3.578"],
                "range": ["#ffffff","transparent","#bdbdbd","transparent","#bdbdbd","transparent","#bdbdbd","transparent"]}
    },
    "shape": {"field": "item", "type": "nominal",
      "scale": {"domain": ["Last Price","4.578","High on 09/28/22","4.928","Average","4.231","Low on 12/07/22","3.578"],
                "range": ["M-1,-1H1V1H-1ZM-0.72,-0.72H0.72V0.72H-0.72ZM-0.44,-0.44H0.44V0.44H-0.44ZM-0.16,-0.16H0.16V0.16H-0.16Z","M0,0","M-0.5,-0.8H0.5M0,-0.8V0.8","M0,0","M-0.8,0H0.8M0,-0.3V0.3","M0,0","M0,-0.8V0.8M-0.5,0.8H0.5","M0,0"]}
    }
  }
}
]
}
